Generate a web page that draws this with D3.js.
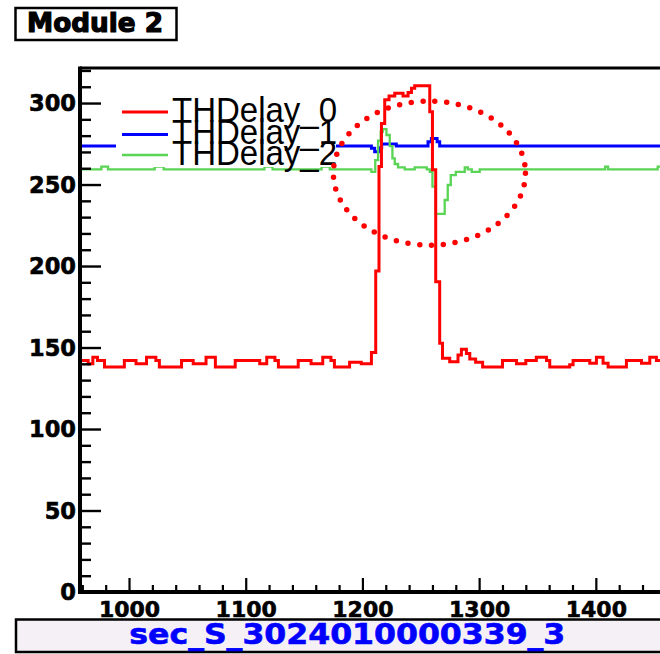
<!DOCTYPE html>
<html><head><meta charset="utf-8">
<script src="https://cdn.jsdelivr.net/npm/d3@7"></script>
<style>html,body{margin:0;padding:0;background:#fff;} svg{display:block}</style>
</head><body>
<svg id="c" width="660" height="654"></svg>
<script>
// ---- data (step histograms: bin-edge x and value) ----
const redX = [958, 965, 969, 973, 979, 996, 1006, 1015, 1023, 1026, 1045, 1055, 1066, 1074, 1091, 1112, 1118, 1125, 1128, 1145, 1156, 1166, 1173, 1176, 1189, 1199,
  1207.7, 1211.4, 1214.2, 1216.3, 1219.1, 1222.8, 1227.7, 1234.8, 1239.1, 1242, 1244.8, 1257.7, 1260, 1262.8, 1266.2, 1268.6, 1274.8, 1281.9, 1284.8, 1289.1,
  1292, 1297, 1303, 1320, 1332, 1340, 1349, 1357.7, 1360.5, 1377.6, 1380.5, 1394.8, 1400.5, 1406.2, 1410.5, 1426.2, 1439.1, 1446.2, 1451.9];
const redV = [142, 140, 144, 142, 138, 142, 140, 144, 142, 138, 142, 140, 144, 138, 142, 140, 144, 142, 138, 142, 140, 144, 142, 138, 141, 140,
  147, 197, 261, 287.5, 302, 304.3, 306, 304.3, 306.4, 309, 310.6, 294.7, 259, 190.4, 152.6, 143.4, 141.3, 145.4, 149, 146.4,
  143, 141, 138, 142, 140, 142, 144, 142, 138, 139.5, 142, 140.3, 144, 140.3, 138, 142, 140.3, 144, 142];

const blueX = [958, 1207.7, 1210.5, 1214.5, 1216.5, 1229, 1256.2, 1259.1, 1264, 1266.2];
const blueV = [273.6, 272.2, 270.1, 272.5, 274.8, 273.6, 276.3, 278.3, 276.3, 273.6];

const greenX = [958, 976.3, 982, 1022, 1029.7, 1116, 1123, 1165, 1172, 1207.7, 1211, 1213.4, 1215.7, 1217.4, 1220.6, 1223.4, 1225.7, 1227.7, 1230.5, 1236.2,
  1244.8, 1255.1, 1257.7, 1260, 1262.8, 1270.5, 1273.1, 1275.7, 1280, 1287.7, 1290.3, 1293.7, 1300.5, 1408, 1410.5, 1453];
const greenV = [259.3, 261, 259.3, 261, 259.3, 261, 259.3, 261, 259.3, 257.8, 265, 277, 282.4, 284, 280.4, 273.6, 266, 262.6, 260.5, 259.3,
  260.5, 259.3, 257.8, 248.7, 232, 240.5, 249.7, 255.8, 257.8, 260.5, 259.3, 257.8, 259.3, 261, 259.3, 261];

const yMajor = [0, 50, 100, 150, 200, 250, 300];
const xMajor = [1000, 1100, 1200, 1300, 1400];
const legendLabels = ["THDelay_0", "THDelay_1", "THDelay_2"];
const seriesColors = ["#ff0000", "#0000ff", "#59d454"];
const titleText = "Module 2";
const bottomText = "sec_S_3024010000339_3";
// dotted ellipse annotation (data coords: centre x, centre y, radius x, radius y)
const ellipseCenter = [1257.4, 257];
const ellipseRadii = [82.3, 44.2];

// ---- scales ----
const svg = d3.select("#c");
const xMin = 958, xMax = 1480;
const x = d3.scaleLinear().domain([xMin, xMax]).range([80, 689.2]);
const y = d3.scaleLinear().domain([0, 321.5]).range([592, 68]);

svg.append("defs").append("clipPath").attr("id", "clip")
  .append("rect").attr("x", x(xMin)).attr("y", y(321.5)).attr("width", 700).attr("height", y(0) - y(321.5));

// ---- lines ----
const line = d3.line().x(d => x(d[0])).y(d => y(d[1])).curve(d3.curveStepAfter);
function pts(xs, vs) { const p = xs.map((d, i) => [d, vs[i]]); p.push([xMax, vs[vs.length - 1]]); return p; }
const plot = svg.append("g").attr("clip-path", "url(#clip)");
plot.append("path").attr("d", line(pts(blueX, blueV))).attr("fill", "none").attr("stroke", seriesColors[1]).attr("stroke-width", 3);
plot.append("path").attr("d", line(pts(greenX, greenV))).attr("fill", "none").attr("stroke", seriesColors[2]).attr("stroke-width", 2.3);
plot.append("path").attr("d", line(pts(redX, redV))).attr("fill", "none").attr("stroke", seriesColors[0]).attr("stroke-width", 3);

// ---- axes ----
const yMinor = d3.range(0, 321, 10).filter(v => v % 50 !== 0);
const xMinor = d3.range(960, 1480, 20).filter(v => v % 100 !== 0);

const gy = svg.append("g").attr("transform", `translate(${x(xMin)},0)`);
gy.call(d3.axisRight(y).tickValues(yMajor).tickSize(21).tickFormat(""));
gy.append("g").call(d3.axisRight(y).tickValues(yMinor).tickSize(11).tickFormat(""));
gy.selectAll(".domain").remove();
gy.selectAll("line").attr("stroke", "#000").attr("stroke-width", 2.4);

const gyl = svg.append("g").attr("transform", `translate(${x(xMin) - 4},0)`);
gyl.call(d3.axisLeft(y).tickValues(yMajor).tickSize(0).tickPadding(0).tickFormat(d3.format("d")));
gyl.selectAll(".domain").remove();
gyl.selectAll("text").attr("font-family", "DejaVu Sans").attr("font-weight", "bold").attr("font-size", 22.5)
  .attr("fill", "#000").attr("stroke", "#000").attr("stroke-width", 0.6).attr("dy", "0.34em");

const gx = svg.append("g").attr("transform", `translate(0,${y(0)})`);
gx.call(d3.axisTop(x).tickValues(xMajor).tickSize(14).tickFormat(""));
gx.append("g").call(d3.axisTop(x).tickValues(xMinor).tickSize(7).tickFormat(""));
gx.selectAll(".domain").remove();
gx.selectAll("line").attr("stroke", "#000").attr("stroke-width", 2.2);

const gxl = svg.append("g").attr("transform", `translate(0,${y(0)})`);
gxl.call(d3.axisBottom(x).tickValues(xMajor).tickSize(0).tickPadding(9).tickFormat(d3.format("d")));
gxl.selectAll(".domain").remove();
gxl.selectAll("text").attr("font-family", "DejaVu Sans").attr("font-weight", "bold").attr("font-size", 22)
  .attr("fill", "#000").attr("stroke", "#000").attr("stroke-width", 0.6);

// frame lines
svg.append("line").attr("x1", x(xMin)).attr("x2", 700).attr("y1", y(321.5)).attr("y2", y(321.5)).attr("stroke", "#000").attr("stroke-width", 3);
svg.append("line").attr("x1", x(xMin)).attr("x2", x(xMin)).attr("y1", y(321.5) - 1.5).attr("y2", y(0) + 2).attr("stroke", "#000").attr("stroke-width", 4);
svg.append("line").attr("x1", x(xMin) - 2).attr("x2", 700).attr("y1", y(0)).attr("y2", y(0)).attr("stroke", "#000").attr("stroke-width", 4);

// ---- legend ----
svg.append("rect").attr("x", 116).attr("y", 88).attr("width", 220).attr("height", 79).attr("fill", "#fff");
const legY = [112, 134.5, 155];
const legW = [3, 3, 2.5];
legendLabels.forEach((lab, i) => {
  svg.append("line").attr("x1", 122).attr("x2", 168).attr("y1", legY[i]).attr("y2", legY[i])
    .attr("stroke", seriesColors[i]).attr("stroke-width", legW[i]);
  svg.append("text").attr("x", 172).attr("y", legY[i] + 9.5).text(lab)
    .attr("font-family", "Liberation Sans, Arial, sans-serif").attr("font-size", 35).attr("fill", "#000")
    .attr("textLength", 165).attr("lengthAdjust", "spacingAndGlyphs");
});

// ---- dotted ellipse ----
const ecx = x(ellipseCenter[0]), ecy = y(ellipseCenter[1]);
svg.append("ellipse").attr("cx", ecx).attr("cy", ecy)
  .attr("rx", x(ellipseCenter[0] + ellipseRadii[0]) - ecx)
  .attr("ry", ecy - y(ellipseCenter[1] + ellipseRadii[1]))
  .attr("fill", "none").attr("stroke", "#ff0000").attr("stroke-width", 5.5)
  .attr("stroke-linecap", "round").attr("stroke-dasharray", "0 11.85");

// ---- title box ----
svg.append("rect").attr("x", 15.5).attr("y", 8).attr("width", 161).attr("height", 32).attr("fill", "#fff").attr("stroke", "#000").attr("stroke-width", 2.5);
svg.append("text").attr("x", 27).attr("y", 31.7).text(titleText)
  .attr("font-family", "DejaVu Sans").attr("font-weight", "bold").attr("font-size", 26).attr("fill", "#000")
  .attr("stroke", "#000").attr("stroke-width", 1.2)
  .attr("textLength", 136).attr("lengthAdjust", "spacingAndGlyphs");

// ---- bottom label box ----
svg.append("rect").attr("x", 16).attr("y", 619.5).attr("width", 680).attr("height", 32.5).attr("fill", "#f5f0f5").attr("stroke", "#000").attr("stroke-width", 2.5);
svg.append("text").attr("x", 129.3).attr("y", 644).text(bottomText)
  .attr("font-family", "DejaVu Sans").attr("font-weight", "bold").attr("font-size", 28.5).attr("fill", "#0000ff")
  .attr("stroke", "#0000ff").attr("stroke-width", 0.6)
  .attr("textLength", 436).attr("lengthAdjust", "spacingAndGlyphs");
</script>
</body></html>
